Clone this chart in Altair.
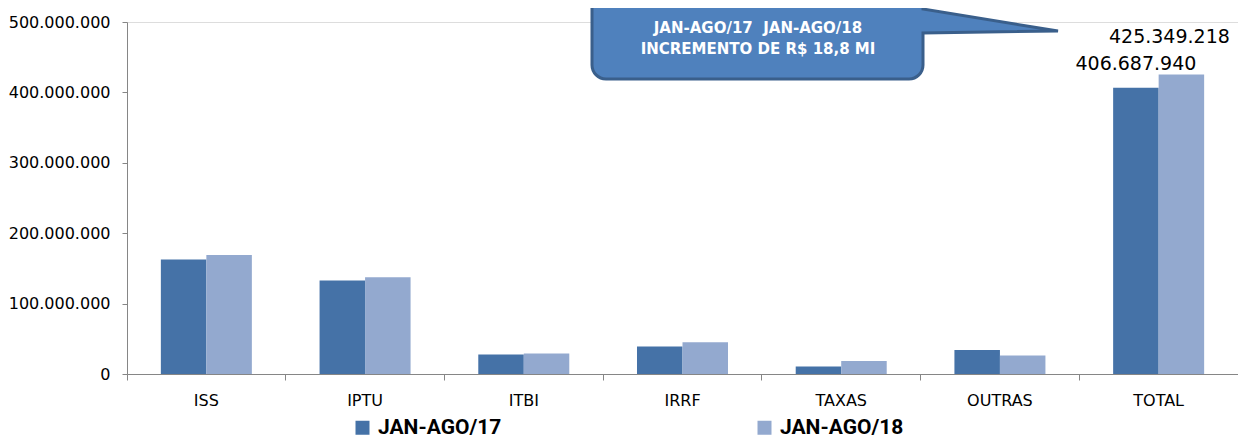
import altair as alt
import pandas as pd

categorias = ["ISS", "IPTU", "ITBI", "IRRF", "TAXAS", "OUTRAS", "TOTAL"]
series = ["JAN-AGO/17", "JAN-AGO/18"]
valores_17 = [162600000, 132800000, 27700000, 39000000, 10600000, 33987940, 406687940]
valores_18 = [169000000, 137500000, 29000000, 45000000, 18500000, 26349218, 425349218]
cores = ["#4572a7", "#93a9cf"]
y_ticks = [0, 100000000, 200000000, 300000000, 400000000, 500000000]
callout_l1 = "JAN-AGO/17\u00a0\u00a0JAN-AGO/18"
callout_l2 = "INCREMENTO DE R$ 18,8 MI"

rows = []
for c, v17, v18 in zip(categorias, valores_17, valores_18):
    rows.append({"cat": c, "serie": series[0], "valor": v17, "rot": f"{v17:,}".replace(",", ".")})
    rows.append({"cat": c, "serie": series[1], "valor": v18, "rot": f"{v18:,}".replace(",", ".")})
df = pd.DataFrame(rows)
one = pd.DataFrame({"a": [0]})

AX = "#868686"
FONT = "DejaVu Sans"

x_enc = alt.X("cat:N", sort=categorias, title=None,
              scale=alt.Scale(paddingInner=0, paddingOuter=0),
              axis=alt.Axis(labelAngle=0, bandPosition=0, domainColor=AX, tickColor=AX,
                            tickSize=6, labelPadding=12, labelFont=FONT, labelFontSize=16,
                            labelColor="#000000", grid=False))
xo_enc = alt.XOffset("serie:N", sort=series,
                     scale=alt.Scale(paddingInner=0, paddingOuter=0.744))
y_enc = alt.Y("valor:Q", title=None,
              scale=alt.Scale(domain=[0, 500000000], nice=False),
              axis=alt.Axis(values=y_ticks, domainColor=AX, tickColor=AX, tickSize=5,
                            labelPadding=12, labelFont=FONT, labelFontSize=16,
                            labelColor="#000000", grid=False,
                            labelExpr="replace(format(datum.value, ','), regexp(',', 'g'), '.')"))

bars = alt.Chart(df).mark_bar().encode(
    x=x_enc, xOffset=xo_enc, y=y_enc,
    color=alt.Color("serie:N", sort=series,
                    scale=alt.Scale(domain=series, range=cores),
                    legend=alt.Legend(title=None, orient="none", legendX=225, legendY=395,
                                      direction="horizontal", symbolType="square",
                                      symbolSize=196, symbolStrokeWidth=0, labelOffset=5,
                                      labelFont="Roboto", labelFontWeight="bold",
                                      labelFontSize=21, labelColor="#000000",
                                      columnPadding=252, padding=0, labelLimit=300)),
)

lab17 = alt.Chart(df).transform_filter(
    (alt.datum.cat == "TOTAL") & (alt.datum.serie == series[0])
).mark_text(font=FONT, fontSize=19, baseline="alphabetic", dy=-18, color="#000000").encode(
    x=alt.X("cat:N", sort=categorias), xOffset=alt.XOffset("serie:N", sort=series),
    y="valor:Q", text="rot:N")

lab18 = alt.Chart(df).transform_filter(
    (alt.datum.cat == "TOTAL") & (alt.datum.serie == series[1])
).mark_text(font=FONT, fontSize=19, baseline="alphabetic", dy=-32, dx=-12, color="#000000").encode(
    x=alt.X("cat:N", sort=categorias), xOffset=alt.XOffset("serie:N", sort=series),
    y="valor:Q", text="rot:N")

PATH = ("M 479 -30 L 782 -30 A 14 14 0 0 1 796 -16 L 796 -13 L 931 9 L 796 11 "
        "L 796 43 A 14 14 0 0 1 782 57 L 479 57 A 14 14 0 0 1 465 43 L 465 -16 "
        "A 14 14 0 0 1 479 -30 Z")
bubble = alt.Chart(one).mark_point(shape=PATH, size=4, filled=True, fill="#4f81bd",
                                   stroke="#3a5f8b", strokeWidth=3, opacity=1).encode(
    x=alt.value(0), y=alt.value(0))

t1 = alt.Chart(one).mark_text(text=callout_l1, font=FONT, fontWeight="bold", fontSize=15,
                              color="#ffffff", align="center", baseline="middle").encode(
    x=alt.value(631), y=alt.value(6))
t2 = alt.Chart(one).mark_text(text=callout_l2, font=FONT, fontWeight="bold", fontSize=15,
                              color="#ffffff", align="center", baseline="middle").encode(
    x=alt.value(631), y=alt.value(27))

chart = alt.layer(bars, lab17, lab18, bubble, t1, t2).properties(
    width=1111, height=352,
    padding={"left": 119, "top": 14, "right": 0, "bottom": 66},
    autosize=alt.AutoSizeParams(type="none"),
).configure_view(strokeWidth=0).configure(background="#ffffff")

chart.save("out.html", embed_options={"renderer": "svg", "actions": False})
